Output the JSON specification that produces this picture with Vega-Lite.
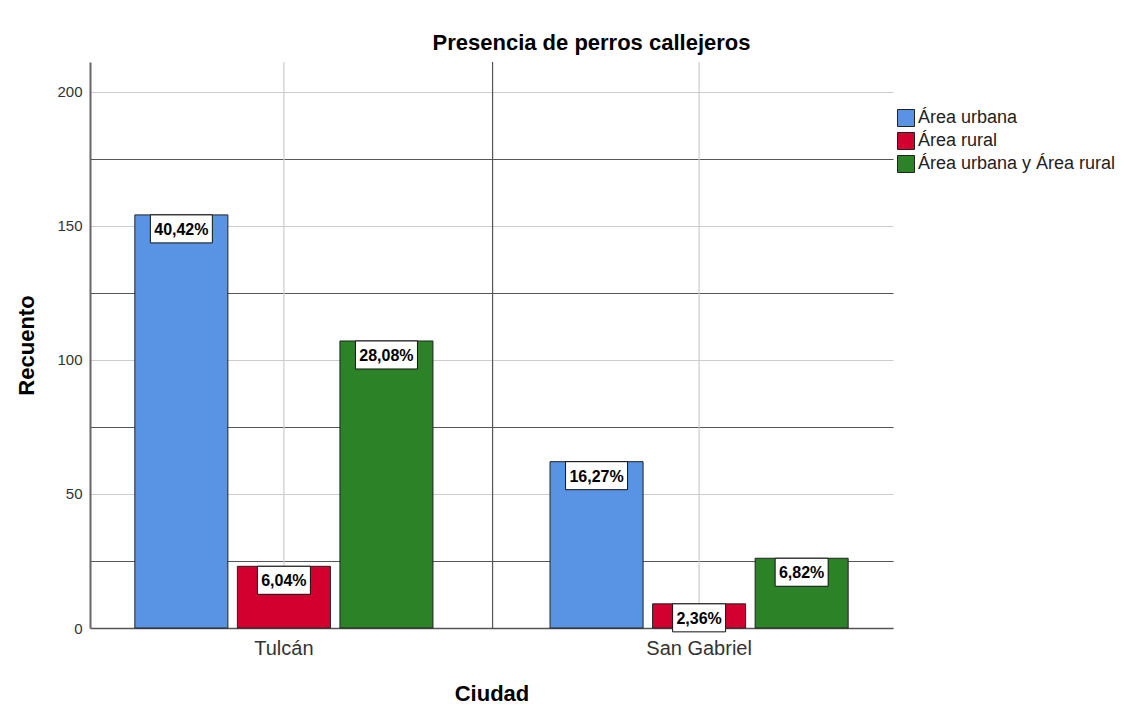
{
  "$schema": "https://vega.github.io/schema/vega-lite/v6.json",
  "autosize": {"type": "none"},
  "width": 803,
  "height": 566,
  "padding": {"left": 90, "top": 62, "right": 231, "bottom": 96},
  "background": "white",
  "title": {
    "text": "Presencia de perros callejeros",
    "font": "Liberation Sans",
    "fontSize": 22,
    "fontWeight": "bold",
    "color": "#000000",
    "anchor": "middle",
    "frame": "group",
    "dx": 100,
    "offset": 6
  },
  "datasets": {
    "bars": [
      {"ciudad": "Tulcán", "area": "Área urbana", "recuento": 154, "pct": 0.4042},
      {"ciudad": "Tulcán", "area": "Área rural", "recuento": 23, "pct": 0.0604},
      {"ciudad": "Tulcán", "area": "Área urbana y Área rural", "recuento": 107, "pct": 0.2808},
      {"ciudad": "San Gabriel", "area": "Área urbana", "recuento": 62, "pct": 0.1627},
      {"ciudad": "San Gabriel", "area": "Área rural", "recuento": 9, "pct": 0.0236},
      {"ciudad": "San Gabriel", "area": "Área urbana y Área rural", "recuento": 26, "pct": 0.0682}
    ],
    "cities": [
      {"ciudad": "Tulcán"},
      {"ciudad": "San Gabriel"}
    ],
    "divider": [
      {"ciudad": "Tulcán"}
    ]
  },
  "layer": [
    {
      "data": {"name": "cities"},
      "mark": {"type": "rule", "color": "#cccccc", "strokeWidth": 1.2},
      "encoding": {
        "x": {
          "field": "ciudad",
          "type": "nominal",
          "title": "Ciudad",
          "sort": ["Tulcán", "San Gabriel"],
          "scale": {"domain": ["Tulcán", "San Gabriel"], "paddingInner": 0.282, "paddingOuter": 0.108}
        }
      }
    },
    {
      "data": {"name": "divider"},
      "mark": {"type": "rule", "color": "#555555", "strokeWidth": 1.2},
      "encoding": {
        "x": {"field": "ciudad", "type": "nominal", "title": "Ciudad", "sort": ["Tulcán", "San Gabriel"], "bandPosition": 1.2}
      }
    },
    {
      "data": {"name": "bars"},
      "mark": {"type": "bar", "stroke": "#222222", "strokeWidth": 1},
      "encoding": {
        "x": {"field": "ciudad", "type": "nominal", "title": "Ciudad", "sort": ["Tulcán", "San Gabriel"]},
        "xOffset": {
          "field": "area",
          "type": "nominal",
          "sort": ["Área urbana", "Área rural", "Área urbana y Área rural"],
          "scale": {"domain": ["Área urbana", "Área rural", "Área urbana y Área rural"], "paddingInner": 0.0927, "paddingOuter": 0}
        },
        "y": {
          "field": "recuento",
          "type": "quantitative",
          "title": "Recuento",
          "scale": {"domain": [0, 211], "nice": false, "zero": true},
          "axis": {
            "values": [0, 25, 50, 75, 100, 125, 150, 175, 200],
            "labelExpr": "datum.value % 50 === 0 ? datum.label : ''"
          }
        },
        "fill": {
          "field": "area",
          "type": "nominal",
          "sort": ["Área urbana", "Área rural", "Área urbana y Área rural"],
          "scale": {
            "domain": ["Área urbana", "Área rural", "Área urbana y Área rural"],
            "range": ["#5894E3", "#D3002F", "#2B8227"]
          },
          "legend": {
            "title": null,
            "orient": "none",
            "legendX": 807,
            "legendY": 47,
            "padding": 0,
            "symbolType": "square",
            "symbolSize": 289,
            "symbolStrokeColor": "#222222",
            "symbolStrokeWidth": 1,
            "symbolOpacity": 1,
            "labelFont": "Liberation Sans",
            "labelFontSize": 18,
            "labelColor": "#222222",
            "labelOffset": 3,
            "labelLimit": 0,
            "rowPadding": 1
          }
        }
      }
    },
    {
      "data": {"name": "bars"},
      "mark": {"type": "point", "filled": true, "fill": "white", "stroke": "#111111", "strokeWidth": 1, "opacity": 1, "yOffset": 14},
      "encoding": {
        "x": {"field": "ciudad", "type": "nominal", "title": "Ciudad", "sort": ["Tulcán", "San Gabriel"]},
        "xOffset": {"field": "area", "type": "nominal", "sort": ["Área urbana", "Área rural", "Área urbana y Área rural"]},
        "y": {"field": "recuento", "type": "quantitative", "title": "Recuento"},
        "shape": {
          "condition": {"test": "datum.pct >= 0.1", "value": "M-1,-0.4516L1,-0.4516L1,0.4516L-1,0.4516Z"},
          "value": "M-1,-0.5283L1,-0.5283L1,0.5283L-1,0.5283Z"
        },
        "size": {
          "condition": {"test": "datum.pct >= 0.1", "value": 3844},
          "value": 2809
        }
      }
    },
    {
      "data": {"name": "bars"},
      "mark": {"type": "text", "font": "Liberation Sans", "fontSize": 16, "fontWeight": "bold", "color": "#000000", "baseline": "middle", "align": "center", "yOffset": 15},
      "encoding": {
        "x": {"field": "ciudad", "type": "nominal", "title": "Ciudad", "sort": ["Tulcán", "San Gabriel"]},
        "xOffset": {"field": "area", "type": "nominal", "sort": ["Área urbana", "Área rural", "Área urbana y Área rural"]},
        "y": {"field": "recuento", "type": "quantitative", "title": "Recuento"},
        "text": {"field": "pct", "type": "quantitative", "format": ".2%"}
      }
    }
  ],
  "config": {
    "locale": {
      "number": {"decimal": ",", "thousands": ".", "grouping": [3], "currency": ["", " €"]}
    },
    "view": {"stroke": null},
    "font": "Liberation Sans",
    "axisX": {
      "titleFont": "Liberation Sans",
      "titleFontSize": 22,
      "titleFontWeight": "bold",
      "titleColor": "#000000",
      "titlePadding": 25,
      "labelFont": "Liberation Sans",
      "labelFontSize": 20,
      "labelColor": "#333333",
      "labelAngle": 0,
      "labelPadding": 10,
      "ticks": false,
      "grid": false,
      "domainColor": "#555555",
      "domainWidth": 1.5
    },
    "axisY": {
      "titleFont": "Liberation Sans",
      "titleFontSize": 22,
      "titleFontWeight": "bold",
      "titleColor": "#000000",
      "titlePadding": 18,
      "labelFont": "Liberation Sans",
      "labelFontSize": 15,
      "labelColor": "#333333",
      "labelPadding": 8,
      "ticks": false,
      "grid": true,
      "gridColor": {
        "condition": {"test": "datum.value % 50 === 0", "value": "#cccccc"},
        "value": "#555555"
      },
      "gridWidth": 1.2,
      "domainColor": "#666666",
      "domainWidth": 2
    }
  }
}
